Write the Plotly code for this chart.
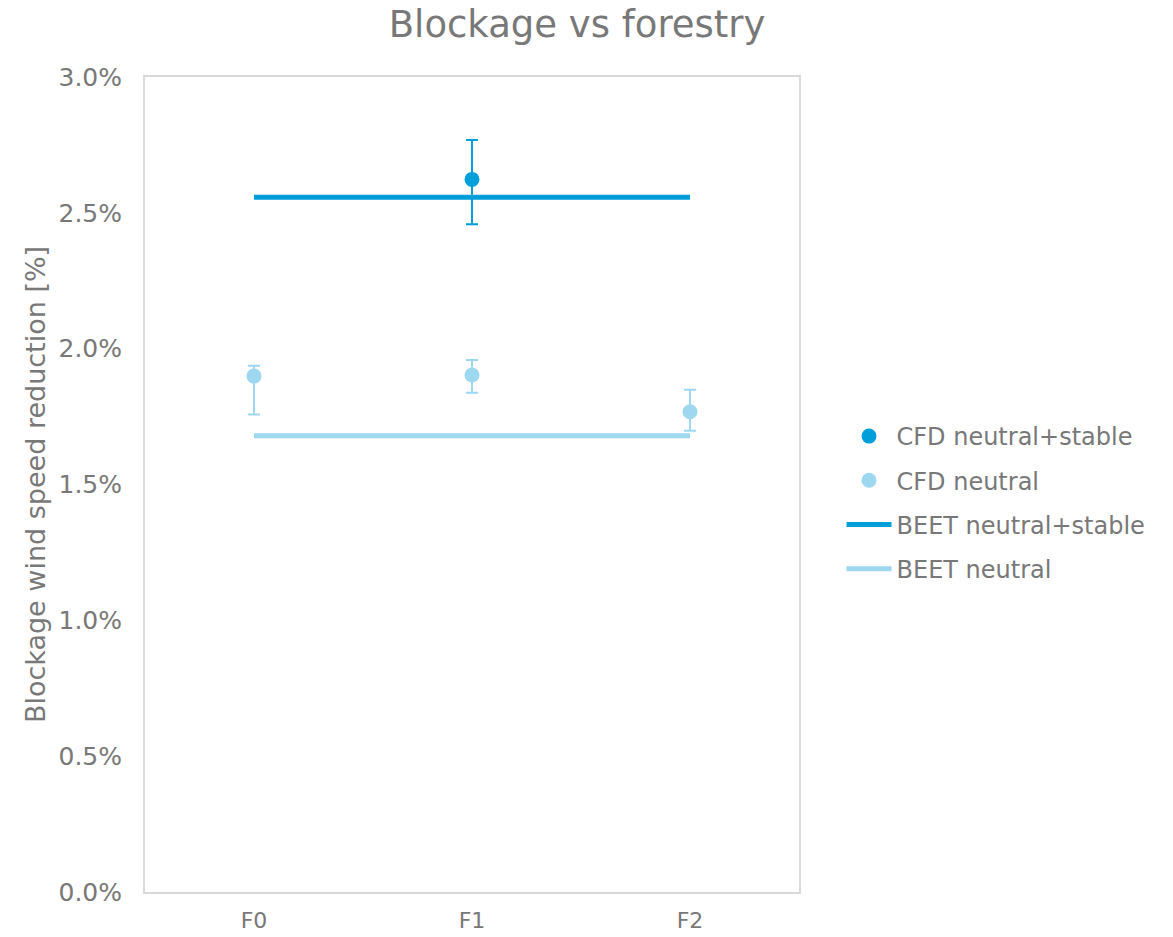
import plotly.graph_objects as go

categories = ["F0", "F1", "F2"]

cfd_ns_x = ["F1"]
cfd_ns_y = [2.623]
cfd_ns_err_plus = [0.145]
cfd_ns_err_minus = [0.165]

cfd_n_y = [1.899, 1.903, 1.768]
cfd_n_err_plus = [0.038, 0.055, 0.081]
cfd_n_err_minus = [0.141, 0.065, 0.070]

beet_ns_y = [2.557, 2.557, 2.557]
beet_n_y = [1.679, 1.679, 1.679]

y_ticks = [0.0, 0.5, 1.0, 1.5, 2.0, 2.5, 3.0]

DARK = "#009FDA"
LIGHT = "#9DD7F0"
TEXT = "#787878"
FONT = "DejaVu Sans"

fig = go.Figure()

fig.add_trace(go.Scatter(
    x=cfd_ns_x, y=cfd_ns_y, mode="markers", name="CFD neutral+stable",
    legendgroup="a",
    marker=dict(color=DARK, size=15),
    error_y=dict(type="data", symmetric=False, array=cfd_ns_err_plus,
                 arrayminus=cfd_ns_err_minus, color=DARK, thickness=2, width=6),
))
fig.add_trace(go.Scatter(
    x=categories, y=cfd_n_y, mode="markers", name="CFD neutral",
    legendgroup="b",
    marker=dict(color=LIGHT, size=15),
    error_y=dict(type="data", symmetric=False, array=cfd_n_err_plus,
                 arrayminus=cfd_n_err_minus, color=LIGHT, thickness=2, width=6),
))
fig.add_trace(go.Scatter(
    x=categories, y=beet_ns_y, mode="lines", name="BEET neutral+stable",
    legendgroup="c",
    line=dict(color=DARK, width=5),
))
fig.add_trace(go.Scatter(
    x=categories, y=beet_n_y, mode="lines", name="BEET neutral",
    legendgroup="d",
    line=dict(color=LIGHT, width=5),
))

fig.update_layout(
    width=1173, height=937,
    margin=dict(l=145, r=374, t=77, b=45),
    paper_bgcolor="white", plot_bgcolor="white",
    font=dict(family=FONT, color=TEXT, size=22),
    title=dict(text="Blockage vs forestry", x=0.492, xanchor="center",
               y=0.974, yanchor="middle", yref="container",
               font=dict(size=37, color=TEXT, family=FONT)),
    showlegend=True,
    legend=dict(x=1.065, xanchor="left", y=0.5865, yanchor="top",
                font=dict(size=24, color=TEXT, family=FONT),
                itemwidth=45,
                tracegroupgap=10, bgcolor="rgba(0,0,0,0)"),
    xaxis=dict(type="category", categoryorder="array", categoryarray=categories,
               range=[-0.5, 2.5], showgrid=False, zeroline=False,
               showline=True, linecolor="#D9D9D9", linewidth=2, mirror=True,
               ticks="", ticklabelstandoff=8, automargin=False,
               tickfont=dict(size=22, color=TEXT, family=FONT)),
    yaxis=dict(range=[0, 3.0], tickvals=y_ticks,
               ticktext=[f"{v:.1f}%" for v in y_ticks],
               showgrid=False, zeroline=False,
               showline=True, linecolor="#D9D9D9", linewidth=2, mirror=True,
               ticks="", ticklabelstandoff=16, automargin=False,
               tickfont=dict(size=25, color=TEXT, family=FONT),
               title=dict(text="Blockage wind speed reduction [%]", standoff=5,
                          font=dict(size=27, color=TEXT, family=FONT))),
)

fig.write_html("out.html", config={"displayModeBar": False},
               post_script="document.body.style.margin='0';")
